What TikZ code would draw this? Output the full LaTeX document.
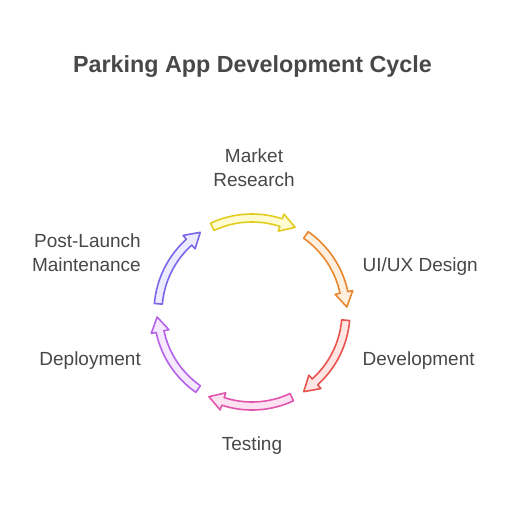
\documentclass[tikz,border=0pt]{standalone}
\usepackage{fontspec}
\setmainfont{Liberation Sans}
\definecolor{txtgray}{HTML}{484848}
\definecolor{ylS}{HTML}{E3CC22}\definecolor{ylF}{HTML}{FFFBD1}
\definecolor{orS}{HTML}{E8872E}\definecolor{orF}{HTML}{FFEFDF}
\definecolor{rdS}{HTML}{E9534F}\definecolor{rdF}{HTML}{FFE5E3}
\definecolor{pkS}{HTML}{E056AE}\definecolor{pkF}{HTML}{FDE3F2}
\definecolor{puS}{HTML}{B562E9}\definecolor{puF}{HTML}{F6E8FE}
\definecolor{blS}{HTML}{7A67EB}\definecolor{blF}{HTML}{EDEBFF}
\def\cycCx{252}\def\cycCy{192}\def\cycR{94}
\newcommand\cycarrow[4]{%
  \draw[cyc, draw=#3, fill=#4, shift={(\cycCx,\cycCy)}]
   ({#1}:{\cycR+4}) arc[start angle={#1}, end angle={#2+9}, radius={\cycR+4}]
   -- ({#2+9}:{\cycR+9}) -- ({#2}:{\cycR+1}) -- ({#2+9}:{\cycR-9}) -- ({#2+9}:{\cycR-4})
   arc[start angle={#2+9}, end angle={#1}, radius={\cycR-4}] -- cycle;}
\begin{document}
\begin{tikzpicture}[x=1pt,y=1pt,
  lbl/.style={text=txtgray, font=\fontsize{19}{24}\selectfont, inner sep=0pt},
  cyc/.style={line width=1.6pt, line join=round}]
\useasboundingbox (0,0) rectangle (516,504);
\fill[white] (0,0) rectangle (516,504);
\node[lbl, font=\bfseries\fontsize{23.3}{28}\selectfont, anchor=base] (title) at (252.5,431) {Parking App Development Cycle};
\cycarrow{115}{63}{ylS}{ylF}
\cycarrow{55}{3}{orS}{orF}
\cycarrow{-5}{-57}{rdS}{rdF}
\cycarrow{-65}{-117}{pkS}{pkF}
\cycarrow{-125}{-177}{puS}{puF}
\cycarrow{175}{123}{blS}{blF}
\node[lbl, align=center, anchor=base] (market) at (254,317) {Market\\Research};
\node[lbl, anchor=base west] (uiux) at (362.5,232.5) {UI/UX Design};
\node[lbl, anchor=base west] (dev) at (362.5,139) {Development};
\node[lbl, anchor=base] (test) at (252,54) {Testing};
\node[lbl, anchor=base east] (deploy) at (141,139) {Deployment};
\node[lbl, align=right, anchor=base east] (post) at (141,233) {Post-Launch\\Maintenance};
\end{tikzpicture}
\end{document}
